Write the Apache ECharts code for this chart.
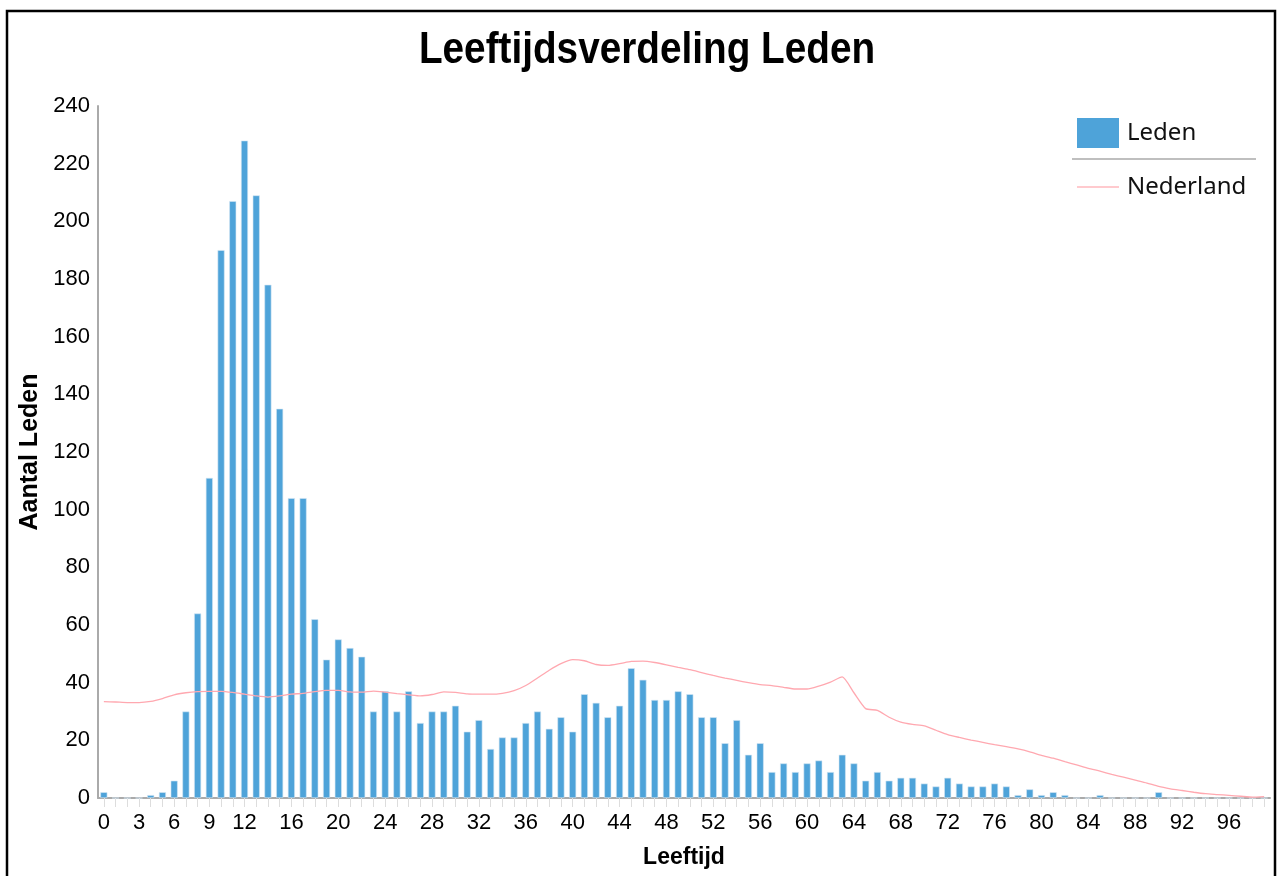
<!DOCTYPE html>
<html>
<head>
<meta charset="utf-8">
<script src="https://cdn.jsdelivr.net/npm/echarts@6/dist/echarts.min.js"></script>
<style>
html,body{margin:0;padding:0;background:#fff;}
#chart{width:1280px;height:876px;}
</style>
</head>
<body>
<div id="chart"></div>
<script>
// Ages 0..99
const ages = Array.from({length: 100}, (_, i) => String(i));
// Members per age (Leden)
const leden = [
  2,0,0,0,1,2,6,30,64,111,
  190,207,228,209,178,135,104,104,62,48,
  55,52,49,30,37,30,37,26,30,30,
  32,23,27,17,21,21,26,30,24,28,
  23,36,33,28,32,45,41,34,34,37,
  36,28,28,19,27,15,19,9,12,9,
  12,13,9,15,12,6,9,6,7,7,
  5,4,7,5,4,4,5,4,1,3,
  1,2,1,0,0,1,0,0,0,0,
  2,0,0,0,0,0,0,0,0,0
];
// Scaled Dutch population (Nederland)
const nederland = [
  33.4,33.3,33.1,33.1,33.5,34.5,35.8,36.5,36.9,37.0,
  37.0,36.6,36.0,35.4,35.0,35.4,36.0,36.3,36.9,37.3,
  37.3,36.8,36.7,37.1,36.7,36.2,35.8,35.4,35.9,36.8,
  36.6,36.1,36.0,36.0,36.3,37.2,39.0,41.6,44.3,46.6,
  48.0,47.6,46.3,46.0,46.6,47.4,47.5,47.0,46.2,45.3,
  44.5,43.5,42.5,41.6,40.8,40.0,39.3,39.0,38.4,37.8,
  37.8,38.8,40.2,42.0,36.5,31.0,30.4,28.0,26.3,25.5,
  25.0,23.5,22.0,21.0,20.1,19.3,18.5,17.8,17.0,16.0,
  14.8,13.8,12.6,11.5,10.3,9.3,8.2,7.2,6.2,5.2,
  4.0,3.2,2.6,2.0,1.5,1.2,0.9,0.6,0.3,0.5
];
// Shown x tick labels
const xTickLabels = ["0","3","6","9","12","16","20","24","28","32","36","40","44","48","52","56","60","64","68","72","76","80","84","88","92","96"];
const yTicks = {min: 0, max: 240, interval: 20};
const titleText = 'Leeftijdsverdeling Leden';

const FONT = "'Liberation Sans',Arial,sans-serif";
const LEGEND_FONT = "'Noto Sans',sans-serif";

const chart = echarts.init(document.getElementById('chart'), null, {renderer: 'canvas'});
chart.setOption({
  backgroundColor: '#fff',
  animation: false,
  legend: [
    {
      data: [{name: 'Leden', icon: 'rect', itemStyle: {borderWidth: 0}}],
      left: 1072, top: 113,
      itemWidth: 42, itemHeight: 30,
      textStyle: {fontFamily: LEGEND_FONT, fontSize: 24, color: '#111', padding: [2, 0, 0, 3]}
    },
    {
      data: [{name: 'Nederland', icon: 'rect', itemStyle: {borderWidth: 0}}],
      left: 1072, top: 170,
      itemWidth: 42, itemHeight: 1.5,
      textStyle: {fontFamily: LEGEND_FONT, fontSize: 24, color: '#111', padding: [0, 0, 0, 3]}
    }
  ],
  graphic: [
    {type: 'text', x: 647, y: 29, scaleX: 0.88, silent: true,
      style: {text: titleText, textAlign: 'center', textVerticalAlign: 'top',
        font: "bold 44px 'Liberation Sans', Arial, sans-serif", fill: '#000'}},
    {type: 'line', shape: {x1: 1072, y1: 159, x2: 1256, y2: 159}, style: {stroke: '#aaa', lineWidth: 1.5}, silent: true},
    {type: 'rect', shape: {x: 7, y: 11, width: 1268, height: 900}, style: {fill: 'none', stroke: '#000', lineWidth: 2.5}, silent: true}
  ],
  grid: {left: 98, right: 10, top: 106, bottom: 78, containLabel: false},
  xAxis: {
    type: 'category',
    data: ages,
    name: 'Leeftijd',
    nameLocation: 'middle',
    nameGap: 48,
    nameTextStyle: {fontFamily: FONT, fontSize: 23, fontWeight: 'bold', color: '#000'},
    axisLine: {lineStyle: {color: '#aaa', width: 2}},
    axisTick: {show: true, alignWithLabel: true, interval: 0, length: 9, lineStyle: {color: '#ddd', width: 1}},
    axisLabel: {
      interval: (idx, val) => xTickLabels.indexOf(val) >= 0,
      fontFamily: FONT, fontSize: 22, color: '#000', margin: 14
    },
    splitLine: {show: false}
  },
  yAxis: {
    type: 'value',
    min: yTicks.min, max: yTicks.max, interval: yTicks.interval,
    name: 'Aantal Leden',
    nameLocation: 'middle',
    nameGap: 54,
    nameRotate: 90,
    nameTextStyle: {fontFamily: FONT, fontSize: 25, fontWeight: 'bold', color: '#000'},
    axisLine: {show: true, lineStyle: {color: '#aaa', width: 2}},
    axisTick: {show: false},
    axisLabel: {fontFamily: FONT, fontSize: 22, color: '#000', margin: 8},
    splitLine: {show: false}
  },
  series: [
    {
      name: 'Leden',
      type: 'bar',
      data: leden,
      barWidth: 7,
      itemStyle: {color: '#4ea3d9', borderColor: '#d3e6f3', borderWidth: 0.6}
    },
    {
      name: 'Nederland',
      type: 'line',
      data: nederland,
      symbol: 'none',
      smooth: 0.2,
      lineStyle: {color: '#ffa8b0', width: 1.3},
      itemStyle: {color: '#ffb8be'}
    }
  ]
});
</script>
</body>
</html>
